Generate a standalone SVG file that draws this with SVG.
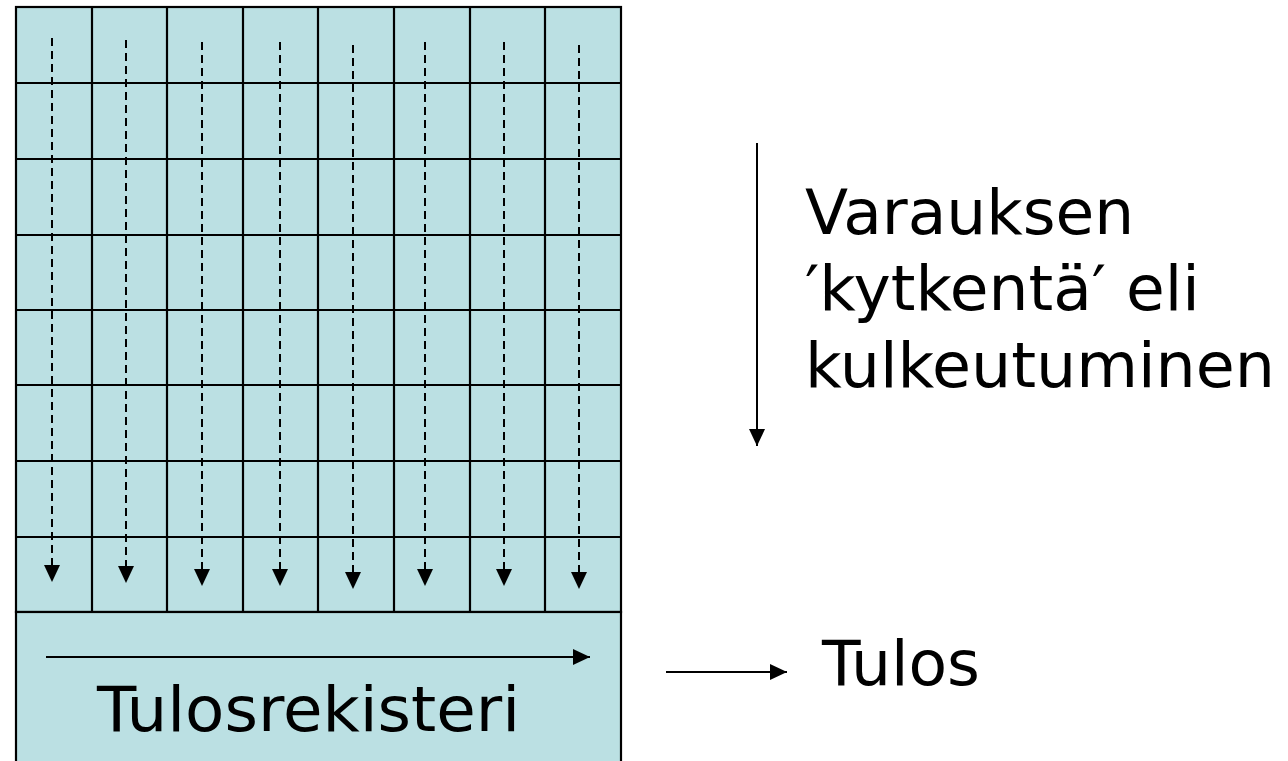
<svg xmlns="http://www.w3.org/2000/svg" width="1288" height="761" viewBox="0 0 1288 761">
<defs>
<style>
.cell{fill:#bbe0e3;stroke:#000;stroke-width:2.2}
.grid{stroke:#000;stroke-width:2.2;fill:none}
.dash{stroke:#000;stroke-width:2;stroke-dasharray:8 5;fill:none}
.solid{stroke:#000;stroke-width:2;fill:none}
.t{font-family:"DejaVu Sans",Verdana,sans-serif;font-size:63px;fill:#000}
</style>
<marker id="ah" markerUnits="userSpaceOnUse" markerWidth="18" markerHeight="18" viewBox="0 0 18 18" refX="17" refY="9" orient="auto">
<path d="M0,1 L17,9 L0,17 Z" fill="#000"/>
</marker>
</defs>
<rect width="1288" height="761" fill="#fff"/>
<g id="grid">
<rect class="cell" x="16" y="7" width="605" height="605"/>
<path class="grid" d="M92,7V612M167,7V612M243,7V612M318,7V612M394,7V612M470,7V612M545,7V612M16,83H621M16,159H621M16,235H621M16,310H621M16,385H621M16,461H621M16,537H621"/>
</g>
<g id="register">
<rect class="cell" x="16" y="612" width="605" height="160"/>
<text class="t" x="97" y="731" textLength="423" lengthAdjust="spacingAndGlyphs">Tulosrekisteri</text>
</g>
<g id="label-varaus">
<text class="t" x="805" y="234">Varauksen</text>
<text class="t" x="805" y="310">′kytkentä′ eli</text>
<text class="t" x="805" y="387" textLength="470" lengthAdjust="spacingAndGlyphs">kulkeutuminen</text>
</g>
<g id="label-tulos">
<text class="t" x="822" y="685" textLength="158" lengthAdjust="spacingAndGlyphs">Tulos</text>
</g>
<g id="connectors">
<line class="dash" x1="52" y1="38" x2="52" y2="582" marker-end="url(#ah)"/>
<line class="dash" x1="126" y1="40" x2="126" y2="583" marker-end="url(#ah)"/>
<line class="dash" x1="202" y1="42" x2="202" y2="586" marker-end="url(#ah)"/>
<line class="dash" x1="280" y1="42" x2="280" y2="586" marker-end="url(#ah)"/>
<line class="dash" x1="353" y1="45" x2="353" y2="589" marker-end="url(#ah)"/>
<line class="dash" x1="425" y1="42" x2="425" y2="586" marker-end="url(#ah)"/>
<line class="dash" x1="504" y1="42" x2="504" y2="586" marker-end="url(#ah)"/>
<line class="dash" x1="579" y1="45" x2="579" y2="589" marker-end="url(#ah)"/>
<line class="solid" x1="46" y1="657" x2="590" y2="657" marker-end="url(#ah)"/>
<line class="solid" x1="757" y1="143" x2="757" y2="446" marker-end="url(#ah)"/>
<line class="solid" x1="666" y1="672" x2="787" y2="672" marker-end="url(#ah)"/>
</g>
</svg>
